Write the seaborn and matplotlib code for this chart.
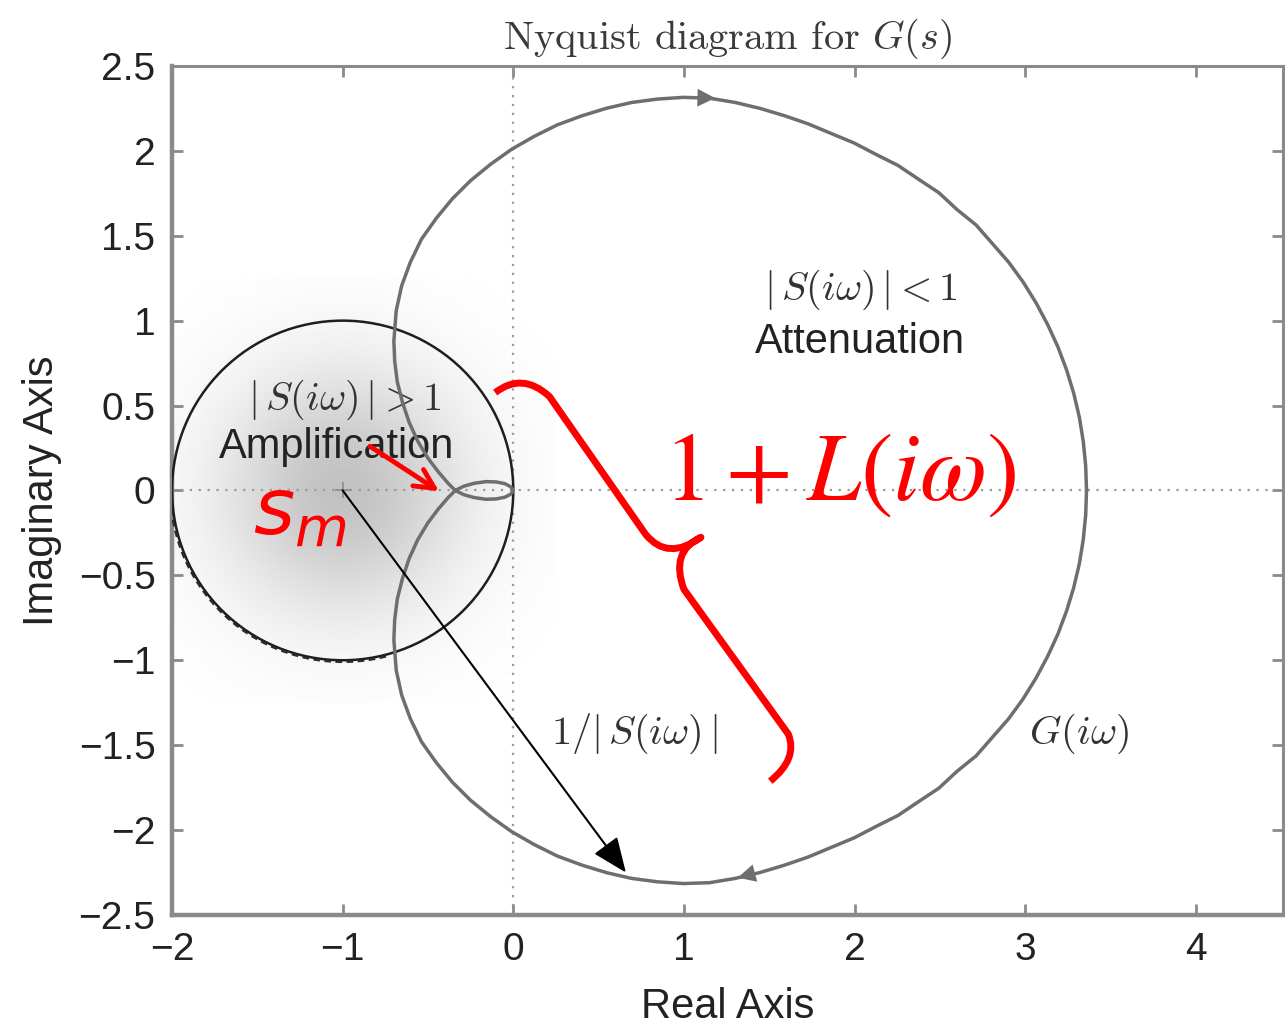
import numpy as np
import pandas as pd
import seaborn as sns
import matplotlib.pyplot as plt
from matplotlib.patches import Circle, Arc, PathPatch
from matplotlib.path import Path

# upper half of G(iw):
# right crossing -> top -> left side -> node -> one side of the small loop -> origin
g_re = [3.36, 3.355, 3.341, 3.318, 3.285, 3.243, 3.192, 3.132, 3.064, 2.988, 2.903, 2.808,
        2.713, 2.601, 2.495, 2.375, 2.255, 2.126, 1.998, 1.864, 1.728, 1.589, 1.446, 1.30,
        1.15, 0.998, 0.847, 0.695, 0.547, 0.401, 0.258, 0.122, -0.01, -0.133, -0.25, -0.357,
        -0.452, -0.538, -0.603, -0.654, -0.686,
        -0.70, -0.695, -0.68, -0.65, -0.61, -0.56, -0.50, -0.44, -0.38, -0.34,
        -0.29, -0.23, -0.16, -0.10, -0.05, -0.015, 0.0]
g_im = [0.0, 0.145, 0.288, 0.431, 0.572, 0.710, 0.846, 0.977, 1.105, 1.228, 1.345, 1.454,
        1.563, 1.654, 1.753, 1.833, 1.914, 1.979, 2.046, 2.102, 2.159, 2.207, 2.25, 2.285,
        2.31, 2.315, 2.305, 2.285, 2.251, 2.206, 2.153, 2.085, 2.009, 1.921, 1.825, 1.718,
        1.602, 1.480, 1.345, 1.206, 1.06,
        0.88, 0.76, 0.64, 0.52, 0.40, 0.29, 0.19, 0.11, 0.04, 0.0,
        -0.025, -0.042, -0.052, -0.05, -0.04, -0.022, 0.0]

# |1 + L| = 1 circle around the critical point
crit_re, crit_im = -1.0, 0.0
crit_radius = 1.0

# tip of the 1/|S| arrow on the curve
s_tip = (0.66, -2.25)

x_ticks = [-2, -1, 0, 1, 2, 3, 4]
y_ticks = [-2.5, -2, -1.5, -1, -0.5, 0, 0.5, 1, 1.5, 2, 2.5]

sns.set_theme(style='ticks')
plt.rcParams['font.family'] = ['Liberation Sans', 'DejaVu Sans']
plt.rcParams['mathtext.fontset'] = 'cm'
plt.rcParams['axes.unicode_minus'] = True

narrow = ['Liberation Sans Narrow', 'Liberation Sans']
curve_col = '#6e6e6e'
spine_col = '#8a8a8a'

fig = plt.figure(figsize=(12.85, 10.27), dpi=100)
ax = fig.add_axes([0.1339, 0.1091, 0.8646, 0.8267])

# grey shading around -1
gx = np.linspace(-2.0, 0.25, 300)
gy = np.linspace(-1.25, 1.25, 300)
GX, GY = np.meshgrid(gx, gy)
R = np.hypot(GX - crit_re, GY - crit_im)
shade = 1 - 0.24 * np.exp(-(R / 0.72) ** 2)
ax.imshow(shade, extent=[-2.0, 0.25, -1.25, 1.25], origin='lower', cmap='gray', vmin=0, vmax=1,
          aspect='auto', zorder=0, interpolation='bilinear')

# dotted axes through origin
ax.axhline(0, color='#9a9a9a', lw=1.6, ls=(0, (1, 3)), zorder=1)
ax.axvline(0, color='#9a9a9a', lw=1.6, ls=(0, (1, 3)), zorder=1)

ax.add_patch(Circle((crit_re, crit_im), crit_radius, fill=False, ec='#1e1e1e', lw=1.8, zorder=3))
ax.add_patch(Arc((crit_re, crit_im), 2.02, 2.02, theta1=175, theta2=285, ec='#2a2a2a',
                 lw=1.6, ls=(0, (3, 2)), zorder=3))
ax.plot([crit_re], [crit_im], marker='+', ms=12, mew=1.2, color='#8a8a8a', zorder=3)

# full nyquist curve: upper half + mirrored lower half
curve = pd.DataFrame({
    're': g_re + g_re[::-1],
    'im': g_im + [-v for v in g_im[::-1]],
})
sns.lineplot(data=curve, x='re', y='im', sort=False, estimator=None, color=curve_col,
             lw=2.5, ax=ax, zorder=4)

# direction arrows on the curve
k = g_re.index(1.15)
ax.annotate('', xy=(g_re[k] + 0.05, g_im[k]), xytext=(g_re[k + 1], g_im[k + 1]),
            arrowprops=dict(arrowstyle='-|>', color=curve_col, lw=0, mutation_scale=32), zorder=5)
k = g_re.index(1.30)
ax.annotate('', xy=(g_re[k], -g_im[k]), xytext=(g_re[k - 2], -g_im[k - 2]),
            arrowprops=dict(arrowstyle='-|>', color=curve_col, lw=0, mutation_scale=32), zorder=5)

# 1/|S| arrow
ax.annotate('', xy=s_tip, xytext=(crit_re, crit_im),
            arrowprops=dict(arrowstyle='-|>,head_length=0.6,head_width=0.25', color='black',
                            lw=1.5, mutation_scale=36, shrinkA=0, shrinkB=0), zorder=6)

# labels inside the plot
ax.text(-0.99, 0.535, r'$|\,S(i\omega)\,|>1$', ha='center', va='center', fontsize=29, color='#333333')
ax.text(-1.035, 0.253, 'Amplification', ha='center', va='center', fontsize=30, color='#222222')
ax.text(2.035, 1.18, r'$|\,S(i\omega)\,|<1$', ha='center', va='center', fontsize=29, color='#333333')
ax.text(2.035, 0.876, 'Attenuation', ha='center', va='center', fontsize=30, color='#222222')
ax.text(0.706, -1.435, r'$1/|\,S(i\omega)\,|$', ha='center', va='center', fontsize=29, color='#333333')
ax.text(3.318, -1.435, r'$G(i\omega)$', ha='center', va='center', fontsize=29, color='#333333')

# red overlay
ax.text(0.876, -0.053, r'$1 + L(i\omega)$', ha='left', va='baseline', fontsize=70,
        color='#ff0000', math_fontfamily='stix', zorder=7)
ax.text(-1.524, -0.259, r'$s_m$', ha='left', va='baseline', fontsize=57,
        color='#ff0000', math_fontfamily='dejavusans', zorder=7)
ax.annotate('', xy=(-0.435, -0.005), xytext=(-0.84, 0.26),
            arrowprops=dict(arrowstyle='->,head_length=0.7,head_width=0.35', color='#ff0000',
                            lw=3.5, mutation_scale=20, shrinkA=0, shrinkB=0), zorder=7)

brace_verts = [(-0.106, 0.576), (0.053, 0.70), (0.212, 0.553),
               (0.776, -0.259),
               (0.906, -0.418), (1.10, -0.276),
               (0.918, -0.359), (1.00, -0.582),
               (1.612, -1.435),
               (1.67, -1.58), (1.506, -1.712)]
brace_codes = [Path.MOVETO, Path.CURVE3, Path.CURVE3,
               Path.LINETO,
               Path.CURVE3, Path.CURVE3,
               Path.CURVE3, Path.CURVE3,
               Path.LINETO,
               Path.CURVE3, Path.CURVE3]
ax.add_patch(PathPatch(Path(brace_verts, brace_codes), fill=False, ec='#ff0000', lw=5,
                       capstyle='butt', joinstyle='round', zorder=7))

ax.set_xlim(-2, 4.512)
ax.set_ylim(-2.5, 2.5)
ax.set_xticks(x_ticks)
ax.set_xticklabels([f'{v:g}'.replace('-', '\u2212') for v in x_ticks], family=narrow)
ax.set_yticks(y_ticks)
ax.set_yticklabels([f'{v:g}'.replace('-', '\u2212') for v in y_ticks])
ax.tick_params(direction='in', length=8, width=2, color=spine_col, top=True, right=True,
               labelsize=28, pad=12, labelcolor='#222222')

for name, sp in ax.spines.items():
    sp.set_visible(True)
    sp.set_color(spine_col)
    sp.set_linewidth(3.2 if name in ('left', 'bottom') else 2.2)

ax.set_xlabel('Real Axis', family=narrow, fontsize=30, color='#222222', labelpad=14)
ax.set_ylabel('Imaginary Axis', family=narrow, fontsize=30, color='#222222', labelpad=12)
ax.set_title('Nyquist diagram for $G(s)$', family='cmr10', fontsize=29, color='#3a3a3a', pad=12)

fig.savefig('out.png', dpi=100)
